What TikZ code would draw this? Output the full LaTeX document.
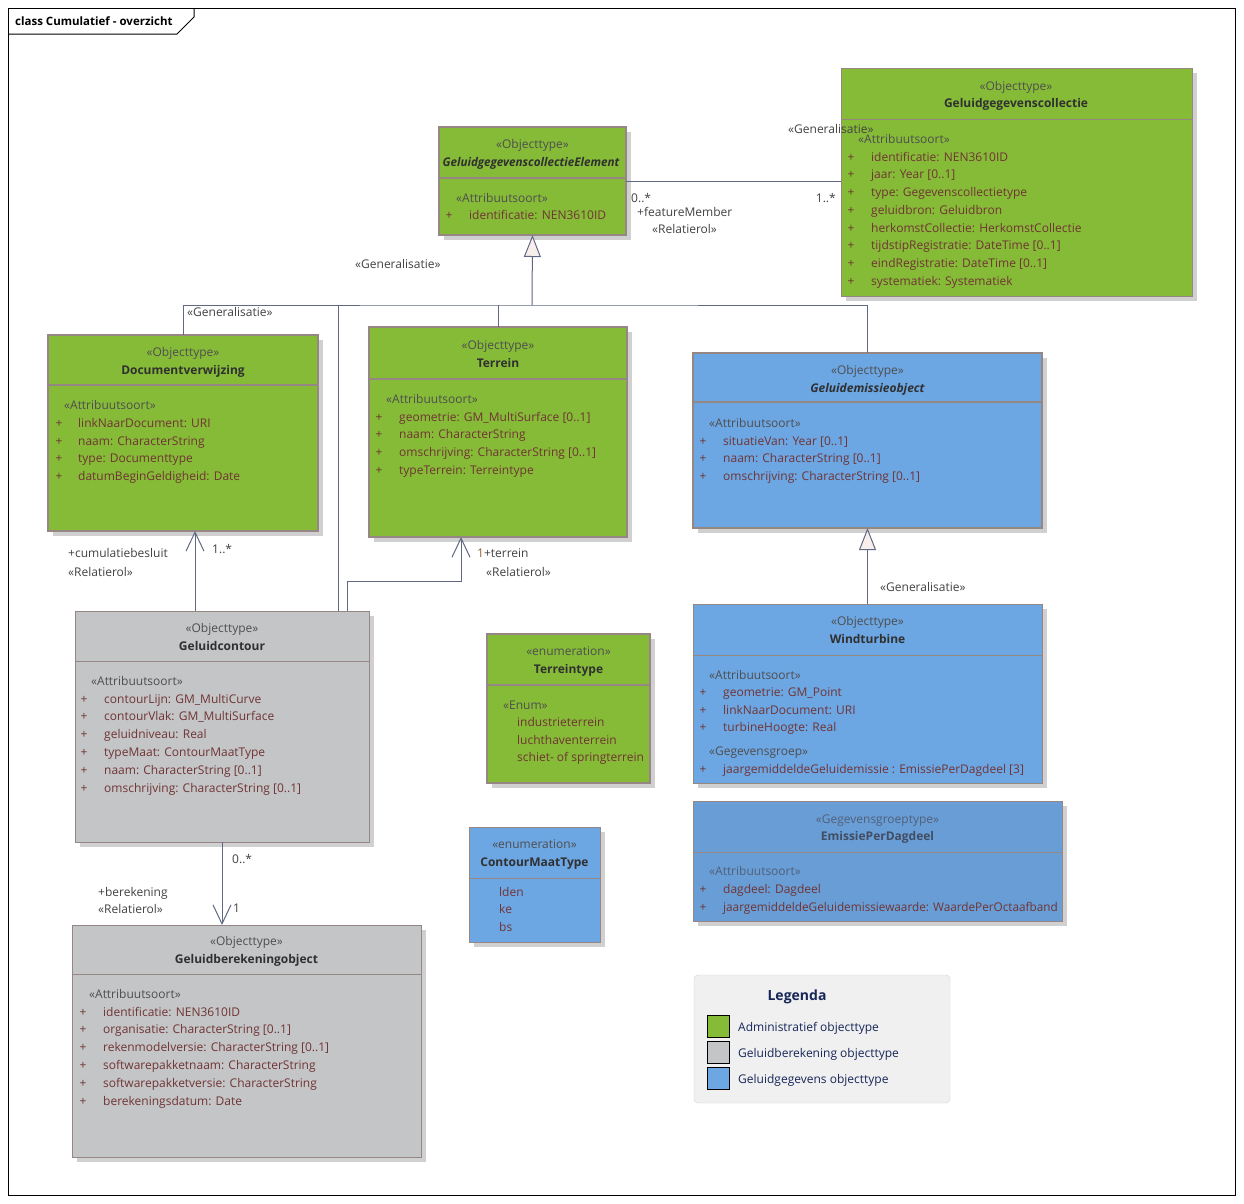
\documentclass[tikz,border=0pt]{standalone}
\usepackage{fontspec}
\setmainfont{Open Sans}
\usepackage{tikz}
\usetikzlibrary{positioning, arrows.meta}
\usepackage{xcolor}

\definecolor{admingreen}{RGB}{134,187,56}
\definecolor{calcgrey}{RGB}{196,197,199}
\definecolor{datablue}{RGB}{108,166,227}
\definecolor{groupblue}{RGB}{104,157,214}
\definecolor{boxedge}{RGB}{150,134,132}
\definecolor{shadowgrey}{RGB}{208,208,208}
\definecolor{attrtext}{RGB}{112,52,52}
\definecolor{stereotext}{RGB}{78,78,78}
\definecolor{nametext}{RGB}{48,48,48}
\definecolor{grouptext}{RGB}{82,96,122}
\definecolor{linkline}{RGB}{96,104,132}
\definecolor{tipfill}{RGB}{248,238,236}
\definecolor{onecolor}{RGB}{150,95,50}
\definecolor{legendtext}{RGB}{22,38,88}
\definecolor{legendbg}{RGB}{240,240,240}
\definecolor{legendedge}{RGB}{212,212,212}

\tikzset{
  classbox/.style={draw=boxedge, anchor=north west, inner sep=0pt, outer sep=0pt},
  stereo/.style={text=stereotext, anchor=mid, inner sep=0pt, yshift=-2.5pt},
  clsname/.style={text=nametext, font=\fontsize{12}{14}\selectfont\bfseries, anchor=mid, inner sep=0pt, yshift=-2.5pt},
  abstractname/.style={clsname, font=\fontsize{12}{14}\selectfont\bfseries\itshape},
  section/.style={text=stereotext, anchor=mid west, inner sep=0pt, yshift=-2.5pt},
  attr/.style={text=attrtext, anchor=mid west, inner sep=0pt, yshift=-2.5pt},
  plus/.style={text=attrtext, anchor=mid, inner sep=0pt, yshift=-2.5pt},
  rolelabel/.style={text=stereotext!85!black, anchor=mid west, inner sep=0pt, yshift=-2.5pt},
  link/.style={draw=linkline, line width=1pt},
  generalize/.style={link, -{Triangle[open, length=22pt, width=17pt, fill=tipfill]}},
  assoc/.style={link, -{Straight Barb[length=19pt, width=18pt]}},
  swatch/.style={draw=black, line width=1pt, minimum size=22pt, inner sep=0pt, anchor=north west},
  legendlabel/.style={text=legendtext, anchor=west, inner sep=0pt, yshift=-1.5pt}
}

% box with shadow and divider: name, fill, edge width, x0, y0, x1, y1, divider
\newcommand{\umlclass}[8]{%
  \fill[shadowgrey] (#4+5,#5+5) rectangle (#6+5,#7+5);
  \node[classbox, fill=#2, line width=#3, minimum width=#6-#4, minimum height=#7-#5] (#1) at (#4,#5) {};
  \draw[draw=boxedge, line width=#3] (#4,#8) -- (#6,#8);
}

\begin{document}
\begin{tikzpicture}[x=1pt, y=-1pt, font=\fontsize{12}{14}\selectfont]
  \useasboundingbox (0,0) rectangle (1244,1203);
  \fill[white] (0,0) rectangle (1244,1203);

  % frame
  \draw[black, line width=1pt] (8,8) rectangle (1235,1195);
  \draw[black, line width=1pt] (8,34) -- (177,34) -- (194,17) -- (194,8);
  \node[anchor=mid west, inner sep=0pt, yshift=-2pt, font=\fontsize{11.5}{13}\selectfont\bfseries] (title) at (15,21) {class Cumulatief - overzicht};

  % GeluidgegevenscollectieElement
  \umlclass{ggce}{admingreen}{2.5pt}{439}{127}{626}{235}{178}
  \node[stereo] (ggce-st) at (532.5,143) {«Objecttype»};
  \node[abstractname, xscale=0.97, transform shape] (ggce-nm) at (531,161) {GeluidgegevenscollectieElement};
  \node[section] (ggce-sc) at (456,197) {«Attribuutsoort»};
  \node[plus] (ggce-p0) at (449,214) {+};
  \node[attr] (ggce-a0) at (469,214) {identificatie: NEN3610ID};

  % Geluidgegevenscollectie
  \umlclass{ggc}{admingreen}{1pt}{841}{68}{1192}{296}{119}
  \node[stereo] (ggc-st) at (1016,85) {«Objecttype»};
  \node[clsname] (ggc-nm) at (1016,102) {Geluidgegevenscollectie};
  \node[section] (ggc-sc) at (858,138) {«Attribuutsoort»};
  \foreach \t [count=\i from 0] in {identificatie: NEN3610ID, jaar: Year [0..1],
      type: Gegevenscollectietype, geluidbron: Geluidbron,
      herkomstCollectie: HerkomstCollectie, tijdstipRegistratie: DateTime [0..1],
      eindRegistratie: DateTime [0..1], systematiek: Systematiek}
    {\node[plus] (ggc-p\i) at (851,156+17.75*\i) {+};
     \node[attr] (ggc-a\i) at (871,156+17.75*\i) {\t};}

  % Documentverwijzing
  \umlclass{docref}{admingreen}{2.5pt}{48}{335}{318}{531}{385}
  \node[stereo] (docref-st) at (183,351) {«Objecttype»};
  \node[clsname] (docref-nm) at (183,369) {Documentverwijzing};
  \node[section] (docref-sc) at (64,404) {«Attribuutsoort»};
  \foreach \t [count=\i from 0] in {linkNaarDocument: URI, naam: CharacterString,
      type: Documenttype, datumBeginGeldigheid: Date}
    {\node[plus] (docref-p\i) at (59,422+17.9*\i) {+};
     \node[attr] (docref-a\i) at (78,422+17.9*\i) {\t};}

  % Terrein
  \umlclass{terrein}{admingreen}{2.5pt}{369}{327}{627}{537}{379}
  \node[stereo] (terrein-st) at (498,344) {«Objecttype»};
  \node[clsname] (terrein-nm) at (498,362) {Terrein};
  \node[section] (terrein-sc) at (386,398) {«Attribuutsoort»};
  \foreach \t [count=\i from 0] in {geometrie: GM\_MultiSurface [0..1], naam: CharacterString,
      omschrijving: CharacterString [0..1], typeTerrein: Terreintype}
    {\node[plus] (terrein-p\i) at (379,416+17.8*\i) {+};
     \node[attr] (terrein-a\i) at (399,416+17.8*\i) {\t};}

  % Geluidemissieobject
  \umlclass{emissie}{datablue}{2.5pt}{693}{353}{1042}{528}{402}
  \node[stereo] (emissie-st) at (867.5,369) {«Objecttype»};
  \node[abstractname] (emissie-nm) at (867.5,387) {Geluidemissieobject};
  \node[section] (emissie-sc) at (709,422) {«Attribuutsoort»};
  \foreach \t [count=\i from 0] in {situatieVan: Year [0..1], naam: CharacterString [0..1],
      omschrijving: CharacterString [0..1]}
    {\node[plus] (emissie-p\i) at (703,440+17.7*\i) {+};
     \node[attr] (emissie-a\i) at (723,440+17.7*\i) {\t};}

  % Windturbine
  \umlclass{wind}{datablue}{1pt}{693}{604}{1042}{783}{655}
  \node[stereo] (wind-st) at (867.5,620) {«Objecttype»};
  \node[clsname] (wind-nm) at (867.5,638) {Windturbine};
  \node[section] (wind-sc) at (709,674) {«Attribuutsoort»};
  \foreach \t [count=\i from 0] in {geometrie: GM\_Point, linkNaarDocument: URI,
      turbineHoogte: Real}
    {\node[plus] (wind-p\i) at (703,691+17.9*\i) {+};
     \node[attr] (wind-a\i) at (723,691+17.9*\i) {\t};}
  \node[section] (wind-sg) at (709,750) {«Gegevensgroep»};
  \node[plus] (wind-p3) at (703,768) {+};
  \node[attr] (wind-a3) at (723,768) {jaargemiddeldeGeluidemissie : EmissiePerDagdeel [3]};

  % EmissiePerDagdeel
  \umlclass{epd}{groupblue}{1pt}{693}{801}{1062}{921}{852}
  \node[stereo, text=grouptext] (epd-st) at (877.5,818) {«Gegevensgroeptype»};
  \node[clsname, text=grouptext!80!black] (epd-nm) at (877.5,835) {EmissiePerDagdeel};
  \node[section, text=grouptext] (epd-sc) at (709,870) {«Attribuutsoort»};
  \node[plus] (epd-p0) at (703,888) {+};
  \node[attr] (epd-a0) at (723,888) {dagdeel: Dagdeel};
  \node[plus] (epd-p1) at (703,906) {+};
  \node[attr, xscale=0.98, transform shape] (epd-a1) at (723,906) {jaargemiddeldeGeluidemissiewaarde: WaardePerOctaafband};

  % Geluidcontour
  \umlclass{contour}{calcgrey}{1pt}{75}{611}{369}{842}{661}
  \node[stereo] (contour-st) at (222,627) {«Objecttype»};
  \node[clsname] (contour-nm) at (222,645) {Geluidcontour};
  \node[section] (contour-sc) at (91,680) {«Attribuutsoort»};
  \foreach \t [count=\i from 0] in {contourLijn: GM\_MultiCurve, contourVlak: GM\_MultiSurface,
      geluidniveau: Real, typeMaat: ContourMaatType, naam: CharacterString [0..1],
      omschrijving: CharacterString [0..1]}
    {\node[plus] (contour-p\i) at (84,698+17.8*\i) {+};
     \node[attr] (contour-a\i) at (104,698+17.8*\i) {\t};}

  % Geluidberekeningobject
  \umlclass{berek}{calcgrey}{1pt}{72}{925}{421}{1157}{974}
  \node[stereo] (berek-st) at (246.5,940) {«Objecttype»};
  \node[clsname] (berek-nm) at (246.5,958) {Geluidberekeningobject};
  \node[section] (berek-sc) at (89,993) {«Attribuutsoort»};
  \foreach \t [count=\i from 0] in {identificatie: NEN3610ID, organisatie: CharacterString [0..1],
      rekenmodelversie: CharacterString [0..1], softwarepakketnaam: CharacterString,
      softwarepakketversie: CharacterString, berekeningsdatum: Date}
    {\node[plus] (berek-p\i) at (83,1011+17.8*\i) {+};
     \node[attr] (berek-a\i) at (103,1011+17.8*\i) {\t};}

  % Terreintype
  \umlclass{ttype}{admingreen}{2.5pt}{487}{634}{650}{783}{685}
  \node[stereo] (ttype-st) at (568.5,650) {«enumeration»};
  \node[clsname] (ttype-nm) at (568.5,668) {Terreintype};
  \node[section] (ttype-sc) at (503,704) {«Enum»};
  \foreach \t [count=\i from 0] in {industrieterrein, luchthaventerrein, schiet- of springterrein}
    {\node[attr] (ttype-a\i) at (517,721+17.9*\i) {\t};}

  % ContourMaatType
  \umlclass{cmtype}{datablue}{1pt}{469}{827}{600}{942}{878}
  \node[stereo] (cmtype-st) at (534.5,843) {«enumeration»};
  \node[clsname] (cmtype-nm) at (534.5,861) {ContourMaatType};
  \foreach \t [count=\i from 0] in {lden, ke, bs}
    {\node[attr] (cmtype-a\i) at (499,891+17.6*\i) {\t};}

  % featureMember
  \draw[link] (ggce.east) -- (ggce.east -| ggc.west);
  \node[rolelabel] (fm-m0) at (631,197) {0..*};
  \node[rolelabel] (fm-rl) at (637,211) {+featureMember};
  \node[rolelabel] (fm-st) at (652,228) {«Relatierol»};
  \node[rolelabel, anchor=mid east] (fm-m1) at (836,197) {1..*};
  \node[rolelabel] (ggc-gen) at (788,128) {«Generalisatie»};

  % generalisaties
  \coordinate (bus) at (532,305);
  \draw[link] (docref.north) |- (bus) -| (emissie.north);
  \draw[link] (terrein.north) -- (terrein.north |- bus);
  \draw[link] (contour.north -| 338,0) -- (338,0 |- bus);
  \draw[generalize] (bus) -- (ggce.south);
  \node[rolelabel] (gen-top) at (355,263) {«Generalisatie»};
  \node[rolelabel] (gen-bus) at (187,311) {«Generalisatie»};
  \draw[generalize] (wind.north) -- (emissie.south);
  \node[rolelabel] (gen-wind) at (880,586) {«Generalisatie»};

  % relaties vanuit Geluidcontour
  \draw[assoc] (contour.north -| 195,0) -- (docref.south -| 195,0);
  \node[rolelabel] (cb-rl) at (68,552) {+cumulatiebesluit};
  \node[rolelabel] (cb-st) at (68,571) {«Relatierol»};
  \node[rolelabel] (cb-m) at (212,548) {1..*};

  \draw[assoc] (contour.north -| 347,0) -- ++(0,-30) -| (terrein.south -| 461,0);
  \node[rolelabel] (tr-rl) at (477,552) {\textcolor{onecolor}{1}+terrein};
  \node[rolelabel] (tr-st) at (486,571) {«Relatierol»};

  \draw[assoc] (contour.south) -- (contour.south |- berek.north);
  \node[rolelabel] (br-m0) at (232,858) {0..*};
  \node[rolelabel] (br-rl) at (98,891) {+berekening};
  \node[rolelabel] (br-st) at (98,908) {«Relatierol»};
  \node[rolelabel] (br-m1) at (233,907) {1};

  % legenda
  \draw[legendedge, fill=legendbg, rounded corners=4pt] (694,975) rectangle (950,1103);
  \node[anchor=mid, inner sep=0pt, yshift=-2pt, text=legendtext, font=\fontsize{14}{16}\selectfont\bfseries] (legend) at (797,996) {Legenda};
  \node[swatch, fill=admingreen] (sw-green) at (707,1015) {};
  \node[swatch, fill=calcgrey] (sw-grey) at (707,1041) {};
  \node[swatch, fill=datablue] (sw-blue) at (707,1067) {};
  \node[legendlabel, right=8pt of sw-green] (lg-green) {Administratief objecttype};
  \node[legendlabel, right=8pt of sw-grey] (lg-grey) {Geluidberekening objecttype};
  \node[legendlabel, right=8pt of sw-blue] (lg-blue) {Geluidgegevens objecttype};
\end{tikzpicture}
\end{document}
